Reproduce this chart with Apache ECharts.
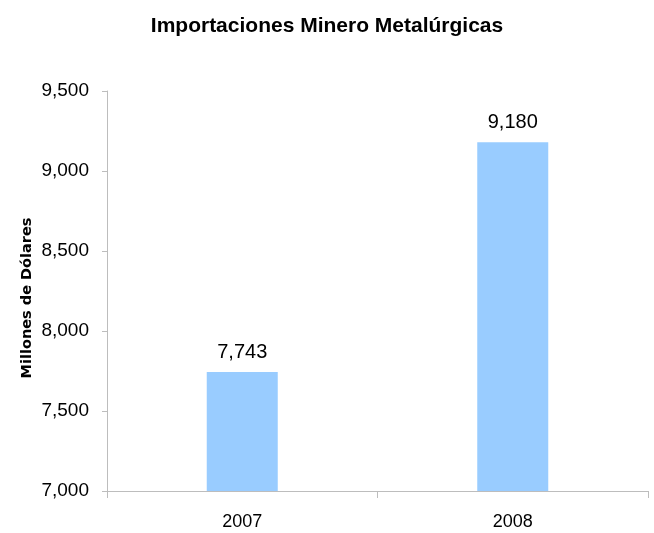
<!DOCTYPE html>
<html>
<head>
<meta charset="utf-8">
<script src="https://cdn.jsdelivr.net/npm/echarts@6/dist/echarts.min.js"></script>
<style>html,body{margin:0;padding:0;background:#fff;}#c{width:654px;height:533px;}</style>
</head>
<body>
<div id="c"></div>
<script>
const categories = ['2007', '2008'];
const values = [7743, 9180];
const yTicks = [7000, 7500, 8000, 8500, 9000, 9500];
const titleText = 'Importaciones Minero Metalúrgicas';
const yName = 'Millones de Dólares';

const FONT = "'Liberation Sans Narrow', 'Arial Narrow', 'Liberation Sans', Arial, sans-serif";
const fmt = v => Math.round(v).toLocaleString('en-US');

const chart = echarts.init(document.getElementById('c'));
chart.setOption({
  animation: false,
  backgroundColor: '#ffffff',
  title: {
    text: titleText,
    left: 'center',
    top: 11,
    textStyle: { fontFamily: FONT, fontWeight: 'bold', fontSize: 21, color: '#000' }
  },
  graphic: [{
    type: 'text',
    x: 27,
    y: 298,
    rotation: Math.PI / 2,
    style: {
      text: yName,
      fontFamily: "'DejaVu Sans', 'Liberation Sans', Arial, sans-serif",
      fontWeight: 'bold',
      fontSize: 14.5,
      fill: '#000',
      align: 'center',
      verticalAlign: 'middle'
    }
  }],
  grid: { left: 107, right: 6, top: 91, bottom: 42, containLabel: false },
  xAxis: {
    type: 'category',
    data: categories,
    axisLine: { lineStyle: { color: '#bdbdbd', width: 1 } },
    axisTick: { show: true, alignWithLabel: false, length: 7, lineStyle: { color: '#bdbdbd' } },
    axisLabel: { fontFamily: FONT, fontSize: 18, color: '#000', margin: 22 },
    splitLine: { show: false }
  },
  yAxis: {
    type: 'value',
    min: yTicks[0],
    max: yTicks[yTicks.length - 1],
    interval: 500,
    axisLine: { show: true, lineStyle: { color: '#bdbdbd', width: 1 } },
    axisTick: { show: true, length: 5, lineStyle: { color: '#bdbdbd' } },
    axisLabel: { fontFamily: FONT, fontSize: 19, color: '#000', margin: 18, formatter: fmt },
    splitLine: { show: false }
  },
  series: [{
    type: 'bar',
    data: values,
    barWidth: 71,
    itemStyle: { color: '#99ccff' },
    label: {
      show: true,
      position: 'top',
      distance: 10,
      fontFamily: FONT,
      fontSize: 20,
      color: '#000',
      formatter: p => fmt(p.value)
    }
  }]
});
</script>
</body>
</html>
